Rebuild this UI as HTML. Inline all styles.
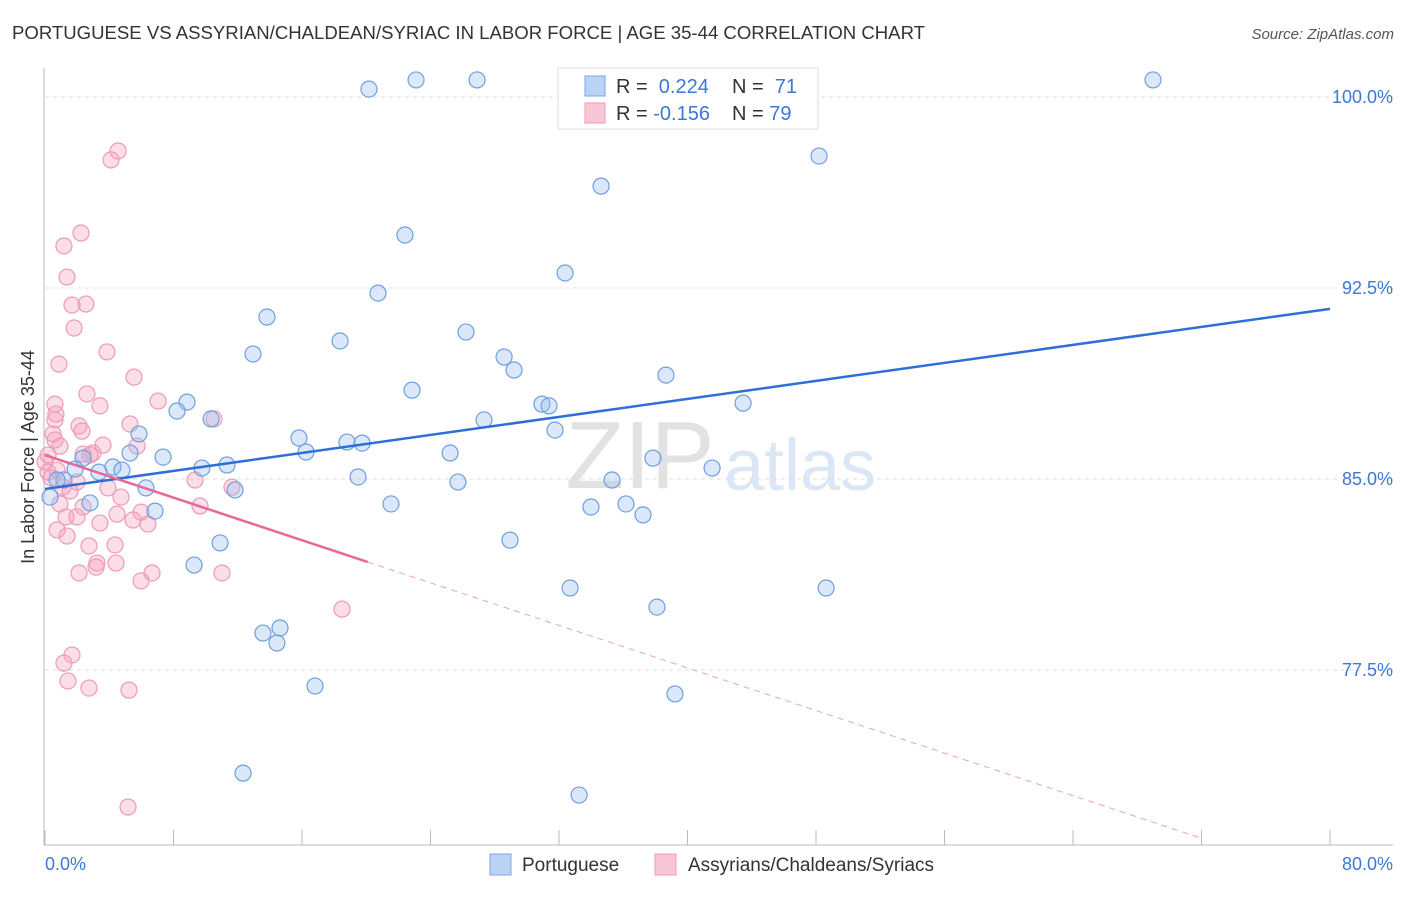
<!DOCTYPE html>
<html><head><meta charset="utf-8"><style>
body{margin:0;background:#fff;font-family:"Liberation Sans",sans-serif;}
svg text{font-family:"Liberation Sans",sans-serif;}
</style></head><body>
<svg id="chart" width="1406" height="892" xmlns="http://www.w3.org/2000/svg">
<text x="12" y="39" font-size="18" fill="#333" textLength="913" lengthAdjust="spacingAndGlyphs">PORTUGUESE VS ASSYRIAN/CHALDEAN/SYRIAC IN LABOR FORCE | AGE 35-44 CORRELATION CHART</text>
<text x="1394" y="39" font-size="15" fill="#555" text-anchor="end" font-style="italic">Source: ZipAtlas.com</text>
<text x="640" y="488" font-size="96" fill="#e2e2e2" text-anchor="middle" font-family="Liberation Serif">ZIP</text>
<text x="800" y="490" font-size="72" fill="#dbe7f5" text-anchor="middle">atlas</text>
<g id="grid"></g>
<g id="axes"></g>
<g id="marks"></g>
<text transform="translate(34,457) rotate(-90)" font-size="18" fill="#333" text-anchor="middle">In Labor Force | Age 35-44</text>
<text x="45" y="870" font-size="18" fill="#3b78d8">0.0%</text>
<text x="1393" y="870" font-size="18" fill="#3b78d8" text-anchor="end">80.0%</text>
<g>
<rect x="558" y="68" width="260" height="61" fill="#fff" stroke="#ddd"/>
<rect x="585" y="76" width="20" height="20" fill="#b9d3f5" stroke="#7aa6e6"/>
<rect x="585" y="103" width="20" height="20" fill="#f9c6d6" stroke="#ee9ab5"/>
<text x="616" y="93" font-size="20" fill="#333">R = <tspan fill="#3b78d8">&#160;0.224</tspan></text>
<text x="732" y="93" font-size="20" fill="#333">N = <tspan fill="#3b78d8">&#160;71</tspan></text>
<text x="616" y="120" font-size="20" fill="#333">R = <tspan fill="#3b78d8">-0.156</tspan></text>
<text x="732" y="120" font-size="20" fill="#333">N = <tspan fill="#3b78d8">79</tspan></text>
</g>
<g>
<rect x="490" y="854" width="21" height="21" fill="#b9d3f5" stroke="#7aa6e6"/>
<text x="522" y="871" font-size="19" fill="#333">Portuguese</text>
<rect x="655" y="854" width="21" height="21" fill="#f9c6d6" stroke="#ee9ab5"/>
<text x="688" y="871" font-size="19" fill="#333">Assyrians/Chaldeans/Syriacs</text>
</g>
</svg>
<script>
const yTicks=[100,92.5,85,77.5];
const yTickLabels=["100.0%","92.5%","85.0%","77.5%"];
const xTicks=[0,8,16,24,32,40,48,56,64,72,80];
const blueX=[20.17,23.10,26.90,68.98,48.19,34.62,22.41,32.38,20.73,13.82,26.21,18.37,12.95,28.58,29.20,38.66,22.85,8.84,8.22,43.46,30.94,31.38,10.34,27.33,5.85,31.75,15.81,18.80,19.74,16.25,25.22,7.35,5.29,37.85,2.37,4.23,1.87,4.79,11.33,9.77,41.53,3.36,19.49,35.30,25.71,1.18,0.75,6.29,11.83,0.31,2.80,21.54,33.99,36.17,6.85,37.23,28.95,10.90,9.28,32.69,48.63,38.10,13.57,14.63,14.44,16.81,39.22,12.33,33.25];
const blueY=[100.31,100.67,100.67,100.67,97.68,96.50,94.58,93.09,92.30,91.36,90.77,90.42,89.91,89.79,89.28,89.08,88.49,88.02,87.67,87.98,87.94,87.87,87.36,87.32,86.77,86.92,86.61,86.45,86.41,86.06,86.02,85.86,86.02,85.82,85.82,85.47,85.39,85.35,85.55,85.43,85.43,85.27,85.08,84.96,84.88,84.96,84.96,84.65,84.57,84.29,84.06,84.02,83.90,84.02,83.74,83.59,82.60,82.49,81.62,80.72,80.72,79.97,78.95,79.15,78.56,76.87,76.56,73.45,72.59];
const pinkX=[4.55,4.11,2.24,1.18,1.37,1.68,2.55,1.81,0.87,3.86,5.54,7.04,2.61,3.42,0.62,10.52,0.62,5.29,2.12,0.50,2.30,0.62,5.73,0.93,3.61,2.99,2.37,2.80,0,0.75,0.19,9.34,1.99,11.64,1.12,3.92,1.56,4.73,0.93,9.65,2.37,5.98,4.48,1.31,1.99,5.48,3.42,6.41,0.75,1.37,2.74,4.36,4.42,3.24,3.18,2.12,6.66,11.02,5.98,18.49,1.68,1.18,1.43,2.74,5.23,5.17,0.37,0.19,0.68];
const pinkY=[97.88,97.53,94.66,94.15,92.93,91.83,91.87,90.93,89.51,89.99,89.00,88.06,88.34,87.87,87.94,87.36,87.32,87.16,87.08,86.77,86.88,86.53,86.29,86.29,86.33,86.02,85.98,85.94,85.67,85.35,85.27,84.96,84.88,84.68,84.68,84.65,84.53,84.29,84.02,83.94,83.90,83.70,83.62,83.51,83.51,83.39,83.27,83.23,83.00,82.76,82.37,82.41,81.70,81.70,81.54,81.31,81.31,81.31,81.00,79.89,78.09,77.77,77.07,76.79,76.71,72.12,85.04,85.94,87.55];
const blueTrend=[84.61,91.68];
const pinkTrend=[85.94,-0.209];
const NS="http://www.w3.org/2000/svg";
const sx=v=>45+v/80*1285;
const sy=v=>97+(100-v)/7.5*191;
function mk(tag,attrs,parent){const e=document.createElementNS(NS,tag);for(const k in attrs)e.setAttribute(k,attrs[k]);parent.appendChild(e);return e;}
const grid=document.getElementById('grid'),axes=document.getElementById('axes'),marks=document.getElementById('marks');
yTicks.forEach((t,i)=>{
 const l=mk('line',{x1:45,x2:1393,y1:sy(t),y2:sy(t),stroke:'#ddd','stroke-dasharray':'4,4'},grid);
 
 
 const tx=mk('text',{x:1393,y:sy(t)+6,'font-size':18,fill:'#3b78d8','text-anchor':'end'},grid);
 tx.textContent=yTickLabels[i];
 
 
});
const ya=mk('line',{x1:44,x2:44,y1:68,y2:845,stroke:'#bbb'},axes);


const xa=mk('line',{x1:44,x2:1393,y1:845,y2:845,stroke:'#bbb'},axes);


xTicks.forEach(t=>{
 const l=mk('line',{x1:sx(t),x2:sx(t),y1:830,y2:845,stroke:'#bbb'},axes);
 
 
});
pinkX.forEach((x,i)=>{
 const c=mk('circle',{cx:sx(x),cy:sy(pinkY[i]),r:8,fill:'rgba(244,160,190,0.35)',stroke:'#ef9ab6','stroke-width':1.2},marks);
 
 
});
blueX.forEach((x,i)=>{
 const c=mk('circle',{cx:sx(x),cy:sy(blueY[i]),r:8,fill:'rgba(150,190,240,0.35)',stroke:'#6f9fe0','stroke-width':1.2},marks);
 
 
});
const bt=mk('line',{x1:sx(0),y1:sy(blueTrend[0]),x2:sx(80),y2:sy(blueTrend[1]),stroke:'#2d6fd6','stroke-width':2.5},marks);


const pf=x=>pinkTrend[0]+pinkTrend[1]*x;
const pt=mk('line',{x1:sx(0),y1:sy(pf(0)),x2:sx(20.1),y2:sy(pf(20.1)),stroke:'#e8679a','stroke-width':2.5},marks);


const pd=mk('line',{x1:sx(20.1),y1:sy(pf(20.1)),x2:sx(71.9),y2:sy(pf(71.9)),stroke:'#eea0bd','stroke-width':1,'stroke-dasharray':'6,5'},marks);


</script>
</body></html>
